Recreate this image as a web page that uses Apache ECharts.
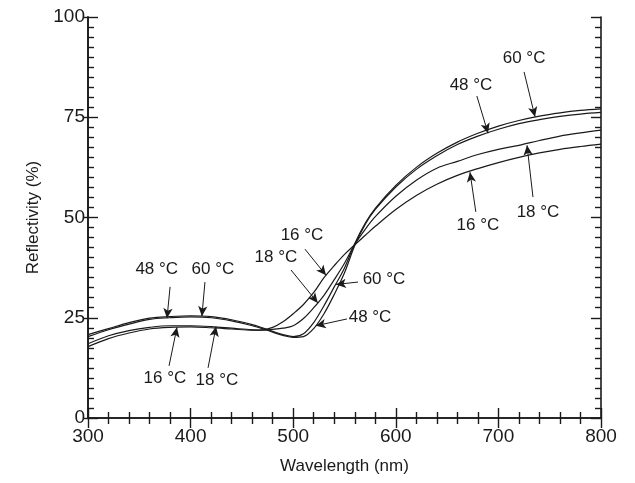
<!DOCTYPE html>
<html>
<head>
<meta charset="utf-8">
<script src="https://cdn.jsdelivr.net/npm/echarts@6/dist/echarts.min.js"></script>
<style>
html,body{margin:0;padding:0;background:#fff;}
#c{width:635px;height:483px;}
</style>
</head>
<body>
<div id="c"></div>
<script>
// Wavelength samples (nm)
const wavelengths = [300, 320, 340, 360, 380, 400, 420, 440, 460, 470, 480, 490, 500, 510, 520, 530, 540, 550, 560, 570, 580, 600, 620, 640, 660, 680, 700, 720, 740, 760, 780, 800];
// Reflectivity (%) per temperature
const r60 = [20.8, 22.3, 23.8, 24.9, 25.3, 25.5, 25.3, 24.5, 23.3, 22.5, 21.6, 20.8, 20.3, 21.0, 23.8, 28.0, 32.7, 37.4, 43.5, 48.5, 52.3, 58.0, 62.5, 66.0, 68.8, 71.0, 72.8, 74.2, 75.3, 76.1, 76.7, 77.1];
const r48 = [20.3, 22.0, 23.4, 24.6, 25.0, 25.2, 25.0, 24.2, 23.0, 22.3, 21.4, 20.6, 20.1, 20.3, 22.3, 26.0, 30.8, 36.2, 43.0, 48.2, 52.0, 57.6, 62.0, 65.4, 68.2, 70.3, 72.0, 73.4, 74.4, 75.2, 75.8, 76.2];
const r18 = [18.5, 20.5, 21.8, 22.6, 23.0, 23.0, 22.8, 22.4, 22.0, 21.9, 22.1, 22.4, 23.0, 24.8, 27.5, 30.6, 34.5, 38.6, 43.3, 47.0, 50.2, 55.3, 59.3, 62.3, 64.0, 65.7, 67.0, 68.0, 69.2, 70.3, 71.1, 71.8];
const r16 = [17.8, 19.8, 21.2, 22.2, 22.6, 22.7, 22.5, 22.2, 21.9, 22.0, 22.6, 24.0, 26.0, 28.3, 31.3, 35.0, 38.0, 40.8, 43.2, 45.5, 47.8, 52.0, 55.5, 58.3, 60.5, 62.2, 63.7, 65.0, 66.1, 67.0, 67.7, 68.3];

// Annotation labels: text, label centre, arrow start and arrow tip (data units)
const labelTexts = ['48 °C', '60 °C', '16 °C', '18 °C', '16 °C', '18 °C', '60 °C', '48 °C', '60 °C', '48 °C', '18 °C', '16 °C'];
const labelAt = [[367, 37.2], [421.8, 37.2], [375, 10.0], [425.7, 9.5], [508.6, 45.6], [483.2, 40.1], [588.5, 34.7], [574.9, 25.2], [725, 89.8], [673.3, 83.0], [738.6, 51.4], [680, 48.1]];
const arrowFrom = [[380, 32.7], [414, 33.9], [379, 13.0], [417, 12.5], [511.5, 42.1], [497.9, 36.9], [563.2, 33.9], [552.4, 24.7], [725, 86.3], [679, 80.3], [733.7, 55.1], [678, 51.4]];
const arrowTo = [[377, 24.9], [411, 25.4], [386.7, 22.6], [424.8, 22.8], [532, 35.6], [524, 28.7], [541.7, 33.3], [522, 23.0], [735.7, 75.1], [689.9, 71.0], [727.9, 68.0], [672.3, 61.3]];

const FONT = "'Liberation Sans', Arial, Helvetica, sans-serif";
const INK = '#1a1a1a';

const chart = echarts.init(document.getElementById('c'), null, {renderer: 'canvas'});

function mkSeries(name, vals) {
  return {
    name: name, type: 'line', xAxisIndex: 0, yAxisIndex: 0,
    data: wavelengths.map((w, i) => [w, vals[i]]),
    showSymbol: false, smooth: 0.35, silent: true,
    lineStyle: {color: INK, width: 1.2},
    z: 3
  };
}

const arrowLines = arrowFrom.map((f, i) => [
  {coord: f, symbol: 'none'},
  {coord: arrowTo[i], symbol: 'arrow', symbolSize: [7, 10]}
]);

const series = [mkSeries('60', r60), mkSeries('48', r48), mkSeries('18', r18), mkSeries('16', r16)];
series[0].markLine = {
  silent: true, animation: false,
  symbol: ['none', 'arrow'], symbolSize: [7, 10],
  label: {show: false},
  lineStyle: {color: INK, width: 1, type: 'solid'},
  emphasis: {disabled: true},
  data: arrowLines
};

const axLine = {show: true, lineStyle: {color: INK, width: 1.6}};
const minorTick = (n) => ({show: true, splitNumber: n, length: 6, lineStyle: {color: INK, width: 1.4}});

const option = {
  backgroundColor: '#fff',
  animation: false,
  textStyle: {fontFamily: FONT},
  grid: {left: 88, right: 34, top: 17, bottom: 65, containLabel: false},
  xAxis: [
    {type: 'value', position: 'bottom', min: 300, max: 800, interval: 100,
     axisLine: axLine, axisTick: {show: true, inside: true, length: 10, lineStyle: {color: INK, width: 1.4}},
     minorTick: minorTick(5), splitLine: {show: false},
     axisLabel: {color: INK, fontSize: 19, margin: 9, fontFamily: FONT},
     name: 'Wavelength (nm)', nameLocation: 'middle', nameGap: 40,
     nameTextStyle: {color: INK, fontSize: 17, fontFamily: FONT}},
    {type: 'value', position: 'top', min: 300, max: 800, interval: 100,
     axisLine: axLine, axisTick: {show: true, inside: true, length: 10, lineStyle: {color: INK, width: 1.4}},
     minorTick: minorTick(5), splitLine: {show: false}, axisLabel: {show: false}}
  ],
  yAxis: [
    {type: 'value', position: 'left', min: 0, max: 100, interval: 25,
     axisLine: axLine, axisTick: {show: true, inside: false, length: 5, lineStyle: {color: INK, width: 1.4}},
     splitLine: {show: false},
     axisLabel: {color: INK, fontSize: 19, margin: 3, fontFamily: FONT},
     name: 'Reflectivity (%)', nameLocation: 'middle', nameGap: 46,
     nameTextStyle: {color: INK, fontSize: 17, fontFamily: FONT}},
    {type: 'value', position: 'left', min: 0, max: 100, interval: 25,
     axisLine: axLine, axisTick: {show: true, inside: true, length: 10, lineStyle: {color: INK, width: 1.4}},
     minorTick: minorTick(10), splitLine: {show: false}, axisLabel: {show: false}},
    {type: 'value', position: 'right', min: 0, max: 100, interval: 25,
     axisLine: axLine, axisTick: {show: true, inside: true, length: 10, lineStyle: {color: INK, width: 1.4}},
     minorTick: minorTick(10), splitLine: {show: false}, axisLabel: {show: false}}
  ],
  series: series
};

chart.setOption(option);

const texts = labelTexts.map((t, i) => {
  const p = chart.convertToPixel({xAxisIndex: 0, yAxisIndex: 0}, labelAt[i]);
  return {
    type: 'text', x: p[0], y: p[1], silent: true, z: 10,
    style: {text: t, fill: INK, font: '17px ' + FONT, align: 'center', verticalAlign: 'middle'}
  };
});
chart.setOption({graphic: texts});
</script>
</body>
</html>
